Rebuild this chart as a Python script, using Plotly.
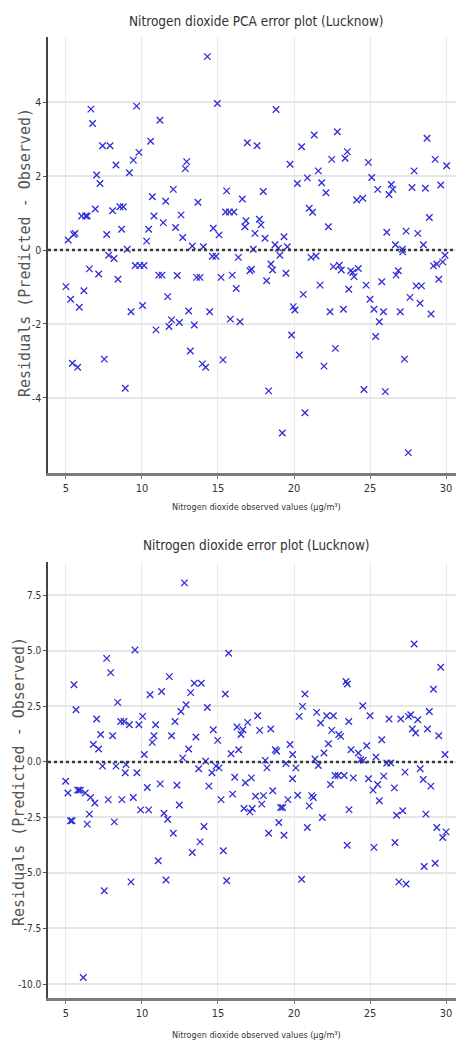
import plotly.graph_objects as go

# ---------------- data: PCA model (top panel) ----------------
pca_x = [5.15, 5.5, 5.6, 6.03, 6.3, 6.4, 6.64, 6.75, 6.93, 7.02, 7.24, 7.41, 7.9, 7.68, 8.07, 8.29, 8.55, 8.77,
         8.66, 9.03, 9.17, 9.43, 9.65, 9.8, 10.31, 10.44, 10.57, 10.68, 10.79, 11.18, 11.4, 11.56, 12.06, 12.21,
         12.57, 12.68, 12.85, 12.94, 13.31, 13.68, 14.04, 14.3, 14.69, 14.96, 15.07, 15.57, 15.5, 15.75, 16.05,
         16.6, 16.77, 16.84, 16.93, 17.32, 17.43, 17.57, 17.72, 17.83, 17.98, 18.09, 18.75, 18.82, 18.97, 19.34,
         19.56, 19.74, 20.22, 20.5, 20.88, 21.0, 21.22, 21.33, 21.6, 21.82, 22.1, 22.26, 22.48, 22.85, 23.36,
         23.51, 24.12, 24.52, 24.89, 25.11, 25.5, 26.1, 26.25, 26.4, 26.5, 26.67, 27.13, 27.37, 27.76, 27.9,
         28.14, 28.51, 28.64, 28.75, 28.9, 29.28, 29.65, 30.04,
         5.0, 5.31, 5.42, 5.77, 5.88, 6.18, 6.54, 7.15, 7.52, 7.81, 8.16, 8.42, 8.9, 9.28, 9.56, 9.87, 10.13,
         10.04, 10.92, 11.1, 11.32, 11.69, 11.78, 11.95, 12.32, 12.46, 13.07, 13.18, 13.44, 13.6, 13.82, 13.97,
         14.19, 14.45, 14.63, 14.87, 15.2, 15.33, 15.81, 15.94, 16.2, 16.34, 16.45, 17.1, 17.21, 18.2, 18.33,
         18.48, 18.59, 19.07, 19.23, 19.47, 19.84, 19.95, 20.06, 20.35, 20.61, 20.72, 21.12, 21.45, 21.71, 21.97,
         22.37, 22.59, 22.72, 22.98, 23.11, 23.25, 23.6, 23.73, 23.86, 23.95, 24.23, 24.6, 24.74, 25.0, 25.26,
         25.37, 25.61, 25.77, 25.88, 26.0, 26.71, 26.86, 26.99, 27.15, 27.26, 27.52, 27.63, 28.03, 28.38, 28.29,
         29.01, 29.17, 29.39, 29.52, 29.78, 29.93]
pca_res = [0.27, 0.42, 0.45, 0.92, 0.92, 0.92, 3.81, 3.42, 1.11, 2.03, 1.8, 2.82, 2.82, 0.42, 1.06, 2.3, 1.17, 1.17,
           0.56, 0.02, 2.09, 2.43, 3.89, 2.64, 0.24, 0.56, 2.94, 1.44, 0.92, 3.51, 0.74, 1.32, 1.64, 0.61,
           0.95, 0.34, 2.2, 2.39, 0.11, 1.29, 0.09, 5.23, 0.59, 3.96, 0.41, 1.6, 1.03, 1.03, 1.03,
           1.38, 0.63, 0.79, 2.9, 0.02, 0.45, 2.82, 0.83, 0.68, 1.58, 0.32, 0.14, 3.8, 0.05, 0.36,
           0.09, 2.32, 1.8, 2.79, 1.95, 1.13, 1.02, 3.11, 2.14, 1.82, 1.55, 0.63, 2.45, 3.2, 2.48,
           2.66, 1.35, 1.4, 2.37, 1.96, 1.64, 0.48, 1.5, 1.77, 1.64, 0.14, 0.02, 0.51, 1.69, 2.14,
           0.45, 0.14, 1.67, 3.02, 0.88, 2.45, 1.76, 2.28,
           -0.99, -1.33, -3.06, -3.17, -1.55, -1.1, -0.51, -0.65, -2.95, -0.14, -0.23, -0.79, -3.74, -1.67, -0.42, -0.42, -0.42,
           -1.5, -2.16, -0.68, -0.68, -1.26, -2.07, -1.89, -0.69, -1.96, -1.65, -2.73, -2.03, -0.74, -0.74, -3.08,
           -3.17, -1.67, -0.17, -0.17, -0.74, -2.97, -1.87, -0.68, -1.04, -0.2, -1.94, -0.56, -0.52, -0.83, -3.81,
           -0.38, -0.54, -0.14, -4.95, -0.63, -2.3, -1.53, -1.62, -2.84, -1.2, -4.4, -0.2, -0.16, -0.95, -3.14,
           -1.67, -0.45, -2.66, -0.41, -0.54, -1.6, -1.06, -0.56, -0.61, -0.72, -0.5, -3.77, -0.95, -1.33, -1.6,
           -2.34, -1.94, -0.86, -1.67, -3.83, -0.68, -0.56, -1.67, -0.05, -2.95, -5.48, -1.28, -0.97, -0.97, -1.44,
           -1.73, -0.43, -0.38, -0.79, -0.32, -0.14]

# ---------------- data: full model (bottom panel) ----------------
full_x = [5.53, 5.66, 6.8, 7.02, 7.15, 7.28, 7.41, 7.68, 7.94, 8.07, 8.29, 8.4, 8.6, 8.82, 8.95, 8.9, 9.17, 9.54,
          9.67, 9.8, 10.04, 10.15, 10.53, 10.68, 10.79, 10.9, 11.29, 11.8, 11.95, 12.17, 12.56, 12.68, 12.79, 12.9,
          13.07, 13.2, 13.44, 13.9, 13.55, 13.73, 14.19, 14.3, 14.6, 14.69, 14.87, 15.07, 14.98, 15.48, 15.7, 15.86,
          16.25, 16.36, 16.51, 16.64, 16.95, 17.61, 17.74, 18.11, 18.22, 18.47, 18.77, 18.86, 19.47, 19.74, 19.91,
          20.12, 20.34, 20.56, 20.72, 21.38, 21.6, 21.49, 21.75, 21.97, 22.15, 22.59, 22.26, 22.48, 22.94, 23.07,
          23.42, 23.51, 23.6, 23.75, 24.23, 24.38, 24.56, 24.52, 24.78, 25.0, 25.39, 25.77, 26.1, 26.36, 26.25,
          27.02, 27.52, 27.68, 27.78, 28.0, 27.9, 28.14, 28.78, 28.9, 29.17, 29.52, 29.65, 29.93,
          4.98, 5.77, 5.85, 5.95, 10.35, 11.2, 12.3, 14.4, 16.1, 16.8, 17.2, 18.6, 19.9, 22.4, 22.7, 22.9, 23.3,
          23.9, 24.9, 25.2, 25.5, 25.9, 26.6, 27.3, 28.3, 28.5, 29.0,
          5.13, 6.27, 6.62, 6.9, 5.3, 5.4, 6.4, 6.54, 7.78, 7.52, 8.18, 8.68, 9.43, 9.28, 6.14, 9.91, 10.44,
          11.45, 11.69, 11.07, 11.58, 12.06, 12.46, 13.31, 13.82, 14.08, 15.2, 15.35, 15.57, 15.96, 16.71, 17.1,
          17.25, 17.47, 17.88, 17.99, 18.33, 19.0, 19.12, 19.25, 19.34, 19.6, 20.24, 20.5, 20.88, 21.0, 21.16,
          21.27, 21.86, 23.5, 23.62, 25.26, 25.61, 26.64, 26.75, 27.15, 26.9, 27.37, 28.56, 28.67, 29.28, 29.39,
          29.78, 30.0]
full_res = [3.47, 2.35, 0.78, 1.93, 0.58, 1.23, -0.19, 4.66, 4.02, 1.18, -0.19, 2.68, 1.82, 1.82, -0.12, -0.49, 1.67, 5.04,
            -0.49, 1.67, 2.05, 0.33, 3.02, 0.88, 1.18, 1.67, 3.17, 3.84, 1.18, 1.82, 2.27, 0.18, 8.06, 2.57,
            0.58, 3.12, 3.54, 3.54, 1.12, -0.31, 0.03, 2.45, -0.49, 1.45, -0.19, -0.27, 0.97, 3.06, 4.89, 0.37,
            1.57, 0.55, 1.23, 1.45, 1.78, 2.08, 1.42, 0.07, -0.27, 1.48, 0.55, 0.48, -0.07, 0.78, 0.33,
            -0.27, 2.05, 2.5, 3.06, 0.13, -0.16, 2.23, 1.75, 0.4, 2.08, 2.08, 0.82, 1.42, 1.23, 1.15,
            3.62, 3.51, 1.82, 0.55, 0.4, 0.1, 0.07, 2.53, 0.73, 2.08, 0.22, 1.0, -0.05, -0.05, 1.93,
            1.93, 2.05, 2.12, 1.48, 1.3, 5.31, 1.9, 1.48, 2.27, 3.27, 1.18, 4.26, 0.33,
            -0.87, -1.27, -1.27, -1.27, -1.15, -0.99, -1.05, -1.09, -0.69, -0.94, -0.72, -1.3, -0.76, -1.02, -0.61, -0.61, -0.61,
            -0.72, -0.76, -1.27, -1.02, -0.64, -1.17, -0.46, -0.31, -0.79, -1.09,
            -1.4, -1.4, -1.6, -1.85, -2.65, -2.65, -2.8, -2.35, -1.7, -5.8, -2.7, -1.7, -1.6, -5.4, -9.71, -2.16, -2.16,
            -2.31, -2.58, -4.45, -5.32, -3.21, -1.94, -4.08, -3.6, -2.91, -1.7, -4.0, -5.35, -1.45, -2.1, -2.25,
            -2.1, -1.55, -1.9, -1.52, -3.21, -2.73, -2.05, -2.05, -3.3, -1.7, -1.5, -5.28, -2.95, -1.98, -1.52,
            -1.6, -2.5, -3.75, -2.15, -3.85, -1.75, -3.63, -2.4, -2.2, -5.4, -5.5, -4.71, -2.35, -4.56, -2.95,
            -3.4, -3.15]

x_ticks = [5, 10, 15, 20, 25, 30]
top_y_ticks = [-4, -2, 0, 2, 4]
top_y_labels = ["-4", "-2", "0", "2", "4"]
bot_y_ticks = [-10.0, -7.5, -5.0, -2.5, 0.0, 2.5, 5.0, 7.5]
bot_y_labels = ["-10.0", "-7.5", "-5.0", "-2.5", "0.0", "2.5", "5.0", "7.5"]

titles = ["Nitrogen dioxide PCA error plot (Lucknow)", "Nitrogen dioxide error plot (Lucknow)"]
x_label = "Nitrogen dioxide observed values (μg/m³)"
y_label = "Residuals (Predicted - Observed)"

NARROW = "Liberation Sans Narrow, DejaVu Sans Condensed, Arial Narrow, sans-serif"
# the page body has an 8px margin, so the figure is 8px smaller and everything is shifted by 8px
OFF = 8
W, H = 464 - OFF, 1048 - OFF
L = 48 - OFF

def py(p):
    return 1 - (p - OFF) / H

def px(p):
    return (p - OFF - L) / (W - L)

marker = dict(symbol="x-thin", size=6.5, color="rgb(45,45,215)",
              line=dict(width=1.3, color="rgb(45,45,215)"))

fig = go.Figure()
fig.add_trace(go.Scatter(x=pca_x, y=pca_res, mode="markers", marker=marker, xaxis="x", yaxis="y",
                         hoverinfo="skip"))
fig.add_trace(go.Scatter(x=full_x, y=full_res, mode="markers", marker=marker, xaxis="x2", yaxis="y2",
                         hoverinfo="skip"))

xcommon = dict(range=[3.82, 31.18], tickvals=x_ticks, showgrid=True, gridcolor="#e9e9e9", gridwidth=1,
               showline=True, linecolor="#7a7a7a", linewidth=3, ticks="outside", ticklen=3,
               tickcolor="#777", tickfont=dict(family=NARROW, size=11, color="#333"), zeroline=False)
ycommon = dict(showgrid=True, gridcolor="#e6e6e6", gridwidth=1.5, showline=True, linecolor="#444",
               linewidth=1.5, ticks="outside", ticklen=3, tickcolor="#555", zeroline=False)

fig.update_layout(
    width=W, height=H, margin=dict(l=L, r=0, t=0, b=0),
    plot_bgcolor="white", paper_bgcolor="white", showlegend=False,
    xaxis=dict(domain=[0, 1], anchor="y", **xcommon),
    yaxis=dict(domain=[py(473), py(37)], anchor="x", range=[-6.03, 5.76],
               tickvals=top_y_ticks, ticktext=top_y_labels,
               tickfont=dict(family=NARROW, size=10.5, color="#333"), **ycommon),
    xaxis2=dict(domain=[0, 1], anchor="y2", **xcommon),
    yaxis2=dict(domain=[py(998), py(562)], anchor="x2", range=[-10.63, 9.0],
                tickvals=bot_y_ticks, ticktext=bot_y_labels,
                tickfont=dict(family=NARROW, size=10, color="#333"), **ycommon),
)

for yr in ["y", "y2"]:
    fig.add_shape(type="line", xref="paper", x0=0, x1=1, yref=yr, y0=0, y1=0,
                  line=dict(color="#3a3a3a", width=2.5, dash="dot"), layer="above")

ann = []
for title, ty in zip(titles, [21, 545]):
    ann.append(dict(text=title, x=px(256), y=py(ty), xref="paper", yref="paper", showarrow=False,
                    xanchor="center", yanchor="middle", font=dict(family=NARROW, size=13.5, color="#333")))
for xy in [507, 1035]:
    ann.append(dict(text=x_label, x=px(256), y=py(xy), xref="paper", yref="paper", showarrow=False,
                    xanchor="center", yanchor="middle", font=dict(family=NARROW, size=9, color="#333")))
for lx, yy in zip([25, 19], [253, 782]):
    ann.append(dict(text=y_label, x=px(lx), y=py(yy), xref="paper", yref="paper",
                    showarrow=False, textangle=-90, xanchor="center", yanchor="middle", borderpad=0,
                    font=dict(family="DejaVu Sans Mono", size=15, color="#555")))
fig.update_layout(annotations=ann)

fig.write_html("out.html")
